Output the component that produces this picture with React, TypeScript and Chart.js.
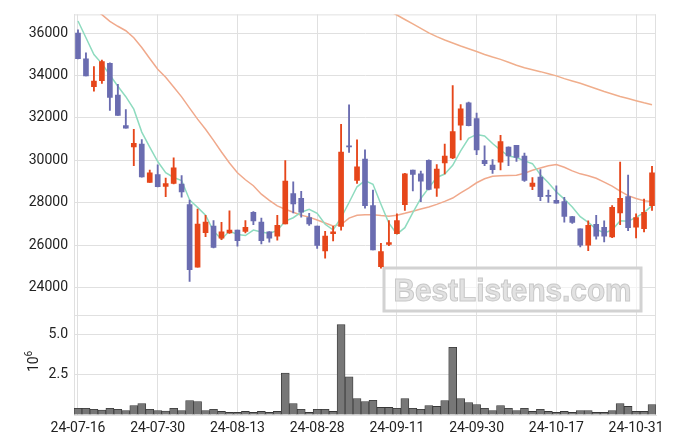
import React, { useEffect, useRef } from 'react';
import { Chart, registerables } from 'chart.js';

Chart.register(...registerables);

// ---------- data ----------
const dates = [
  '24-07-16', '24-07-17', '24-07-18', '24-07-19', '24-07-22', '24-07-23', '24-07-24', '24-07-25', '24-07-26', '24-07-29',
  '24-07-30', '24-07-31', '24-08-01', '24-08-02', '24-08-05', '24-08-06', '24-08-07', '24-08-08', '24-08-09', '24-08-12',
  '24-08-13', '24-08-14', '24-08-16', '24-08-19', '24-08-20', '24-08-21', '24-08-22', '24-08-23', '24-08-26', '24-08-27',
  '24-08-28', '24-08-29', '24-08-30', '24-09-02', '24-09-03', '24-09-04', '24-09-05', '24-09-06', '24-09-09', '24-09-10',
  '24-09-11', '24-09-12', '24-09-13', '24-09-19', '24-09-20', '24-09-23', '24-09-24', '24-09-25', '24-09-26', '24-09-27',
  '24-09-30', '24-10-02', '24-10-04', '24-10-07', '24-10-08', '24-10-10', '24-10-11', '24-10-14', '24-10-15', '24-10-16',
  '24-10-17', '24-10-18', '24-10-21', '24-10-22', '24-10-23', '24-10-24', '24-10-25', '24-10-28', '24-10-29', '24-10-30',
  '24-10-31', '24-11-01', '24-11-04',
];

const opens = [
  36000, 34790, 33470, 33750, 34570, 33080, 31640, 30630, 30760, 28960,
  29320, 28770, 28910, 28880, 27910, 24960, 26590, 26900, 26330, 26570,
  26710, 26650, 27550, 27090, 26620, 26420, 27000, 28430, 28200, 27300,
  26900, 25720, 26540, 26880, 30680, 29050, 30060, 27860, 24980, 26030,
  26540, 27910, 29540, 29360, 30000, 28680, 29880, 30110, 31660, 32710,
  31970, 30000, 29770, 29910, 30620, 30700, 30200, 28770, 29210, 28330,
  28110, 28050, 27350, 26770, 26000, 26980, 26840, 26390, 27520, 28290,
  26850, 26770, 27860,
];
const highs = [
  36150, 35070, 34420, 34730, 34600, 33580, 32390, 31460, 30980, 29540,
  29780, 29160, 30110, 29280, 28120, 27700, 27400, 27160, 27070, 27620,
  26710, 27160, 27580, 27270, 26640, 27400, 29980, 28980, 28530, 27500,
  26900, 26650, 26880, 31690, 32620, 30960, 30490, 28600, 26080, 27160,
  27470, 29380, 29540, 29490, 30020, 29800, 30760, 33520, 32630, 32740,
  32230, 30680, 30030, 31180, 30640, 30700, 30340, 29180, 29560, 28590,
  28790, 28250, 27360, 26770, 27140, 27400, 27140, 27860, 29910, 29300,
  27470, 28170, 29720,
];
const lows = [
  34780, 33980, 33260, 33630, 32350, 32120, 31520, 29750, 29200, 28960,
  28740, 28280, 28880, 28260, 24290, 24960, 26400, 25870, 26260, 26550,
  25950, 26570, 26960, 26050, 26140, 26230, 27000, 27520, 27320, 26930,
  25840, 25380, 26200, 26700, 30370, 28910, 27740, 25770, 24910, 25970,
  26530, 27630, 28560, 28050, 28600, 28290, 29360, 30080, 30960, 31620,
  30260, 29750, 29380, 29540, 29750, 29950, 29000, 28610, 28090, 28010,
  27980, 27080, 27020, 25910, 25740, 26280, 26150, 26350, 26960, 26680,
  26340, 26620, 27630,
];
const closes = [
  34790, 33980, 33730, 34650, 32960, 32120, 31520, 30800, 29220, 29410,
  28760, 28900, 29640, 28510, 24840, 26990, 27090, 25890, 26620, 26710,
  26210, 26840, 27140, 26210, 26330, 26930, 29020, 27940, 27550, 27000,
  25980, 26430, 26620, 30390, 30630, 29690, 27860, 25770, 25690, 26120,
  27160, 29360, 29330, 29020, 28630, 29580, 30200, 31350, 32430, 31630,
  30490, 29840, 29560, 30880, 30210, 30140, 29050, 28930, 28280, 28300,
  27980, 27350, 27070, 26000, 26930, 26420, 26420, 27780, 28200, 26820,
  27300, 27550, 29410,
];
const volumes = [
  410000, 410000, 350000, 300000, 410000, 350000, 280000, 590000, 710000, 350000,
  280000, 240000, 410000, 280000, 890000, 830000, 280000, 350000, 220000, 160000,
  160000, 220000, 160000, 220000, 160000, 220000, 2600000, 710000, 350000, 160000,
  350000, 350000, 220000, 5590000, 2360000, 1020000, 830000, 910000, 470000, 470000,
  410000, 1020000, 410000, 350000, 590000, 530000, 890000, 4190000, 1020000, 770000,
  650000, 410000, 280000, 590000, 410000, 280000, 410000, 220000, 350000, 220000,
  160000, 220000, 160000, 280000, 280000, 160000, 160000, 280000, 710000, 530000,
  220000, 220000, 650000,
];
const ma5 = [
  36570, 35780, 34990, 34560, 34020, 33490, 33000, 32410, 31330, 30620,
  29940, 29420, 29190, 29040, 28130, 27780, 27410, 26660, 26280, 26660,
  26500, 26450, 26710, 26620, 26550, 26690, 27130, 27290, 27550, 27690,
  27500, 26980, 26720, 27290, 28010, 28750, 29040, 28870, 27930, 27030,
  26520, 26820, 27530, 28200, 28700, 29190, 29350, 29760, 30440, 31040,
  31220, 31150, 30790, 30480, 30200, 30130, 29970, 29840, 29320, 28940,
  28510, 28170, 27800, 27340, 27070, 26750, 26570, 26710, 27150, 27130,
  27310, 27530, 27860,
];
const ma20 = [
  37650, 37380, 37120, 36870, 36550, 36320, 36110, 35780, 35320, 34800,
  34290, 33920, 33460, 32990, 32460, 31940, 31460, 30940, 30390, 29870,
  29410, 29080, 28800, 28400, 28110, 27850, 27690, 27550, 27410, 27320,
  27180, 27040, 26900, 26970, 27270, 27410, 27430, 27430, 27390, 27360,
  27410, 27500, 27600, 27700, 27800, 27920, 28060, 28220, 28460, 28690,
  28940, 29130, 29250, 29270, 29280, 29290, 29390, 29530, 29640, 29740,
  29800, 29670, 29500, 29360, 29270, 29150, 28970, 28780, 28550, 28330,
  28200, 28090, 28050,
];
const ma60 = [
  null, null, null, null, null, null, null, null, null, null,
  null, null, null, null, null, null, null, null, null, null,
  null, null, null, null, null, null, null, null, null, null,
  null, null, null, null, null, null, null, null, 37250, 37040,
  36850, 36640, 36430, 36220, 36010, 35830, 35670, 35530, 35390, 35260,
  35130, 34990, 34870, 34760, 34620, 34480, 34360, 34270, 34180, 34080,
  33980, 33850, 33740, 33630, 33500, 33370, 33240, 33130, 33010, 32910,
  32810, 32710, 32620,
];

const priceMin = 22710;
const priceMax = 36880;
const priceTickValues = [24000, 26000, 28000, 30000, 32000, 34000, 36000];
const volMax = 6200000;
const volTickValues = [0, 2500000, 5000000];
const labelEvery = 10;

// ---------- styles ----------
const UP = '#E6461A';
const DOWN = '#6A6CB0';
const GRID = '#E0E0E0';
const FONT = 'Roboto';

const framePlugin = {
  id: 'frame',
  beforeDatasetsDraw(chart: any) {
    const { ctx, chartArea } = chart;
    const yv = chart.scales.yv;
    ctx.save();
    ctx.strokeStyle = GRID;
    ctx.lineWidth = 1;
    ctx.beginPath();
    ctx.moveTo(chartArea.left, chartArea.top + 0.5);
    ctx.lineTo(chartArea.right, chartArea.top + 0.5);
    ctx.moveTo(chartArea.right - 0.5, chartArea.top);
    ctx.lineTo(chartArea.right - 0.5, chartArea.bottom);
    ctx.moveTo(chartArea.left, Math.round(yv.top) + 0.5);
    ctx.lineTo(chartArea.right, Math.round(yv.top) + 0.5);
    ctx.stroke();

    // watermark
    const bx = 384, by = 268, bw = 257, bh = 43;
    ctx.fillStyle = 'rgba(255,255,255,0.6)';
    ctx.fillRect(bx, by, bw, bh);
    ctx.strokeStyle = '#D2D2D2';
    ctx.lineWidth = 3;
    ctx.strokeRect(bx, by, bw, bh);
    ctx.font = `bold 30px "Liberation Sans", Arial, sans-serif`;
    const text = 'BestListens.com';
    const w = ctx.measureText(text).width;
    const sx = 238 / w;
    ctx.translate(bx + bw / 2, by + bh / 2 + 11);
    ctx.scale(sx, 1.05);
    ctx.textAlign = 'center';
    ctx.textBaseline = 'alphabetic';
    ctx.fillStyle = '#E2E2E2';
    ctx.fillText(text, 0, 0);
    ctx.strokeStyle = '#C9C9C9';
    ctx.lineWidth = 1;
    ctx.strokeText(text, 0, 0);
    ctx.restore();
  },
  afterDraw(chart: any) {
    const { ctx } = chart;
    ctx.save();
    ctx.translate(38.3, 372);
    ctx.rotate(-Math.PI / 2);
    ctx.fillStyle = '#222';
    ctx.textBaseline = 'alphabetic';
    ctx.textAlign = 'left';
    ctx.font = `14px ${FONT}`;
    ctx.fillText('10', 0, 0);
    ctx.font = `10px ${FONT}`;
    ctx.fillText('6', 15.5, -6.5);
    ctx.restore();
  },
};

export default function App() {
  const ref = useRef<HTMLCanvasElement | null>(null);

  useEffect(() => {
    document.body.style.margin = '0';
    document.body.style.overflow = 'hidden';
    const canvas = ref.current;
    if (!canvas) return;
    Chart.defaults.font.family = FONT;
    Chart.defaults.color = '#222';

    const colors = closes.map((c, i) => (c >= opens[i] ? UP : DOWN));

    const chart = new Chart(canvas, {
      type: 'bar',
      data: {
        labels: dates,
        datasets: [
          {
            type: 'line',
            label: 'MA5',
            data: ma5,
            borderColor: '#8EDBBF',
            borderWidth: 1.5,
            pointRadius: 0,
            yAxisID: 'y',
            order: 10,
          } as any,
          {
            type: 'line',
            label: 'MA20',
            data: ma20,
            borderColor: '#F0A98C',
            borderWidth: 1.5,
            pointRadius: 0,
            yAxisID: 'y',
            order: 10,
          } as any,
          {
            type: 'line',
            label: 'MA60',
            data: ma60,
            borderColor: '#F0AE8C',
            borderWidth: 1.5,
            pointRadius: 0,
            yAxisID: 'y',
            order: 10,
          } as any,
          {
            type: 'bar',
            label: 'wick',
            data: lows.map((l, i) => [l, highs[i]]),
            backgroundColor: colors,
            barThickness: 1.2,
            grouped: false,
            yAxisID: 'y',
            order: 2,
          } as any,
          {
            type: 'bar',
            label: 'body',
            data: opens.map((o, i) => [o, closes[i]]),
            backgroundColor: colors,
            barThickness: 5,
            minBarLength: 1,
            grouped: false,
            yAxisID: 'y',
            order: 1,
          } as any,
          {
            type: 'bar',
            label: 'volume',
            data: volumes,
            backgroundColor: '#777777',
            borderColor: '#383838',
            borderWidth: 0.8,
            barPercentage: 1,
            categoryPercentage: 1,
            grouped: false,
            yAxisID: 'yv',
            order: 3,
          } as any,
        ],
      },
      options: {
        animation: false,
        responsive: false,
        maintainAspectRatio: false,
        layout: { padding: { top: 9, right: 19, left: 0, bottom: 0 } },
        plugins: { legend: { display: false }, tooltip: { enabled: false } },
        scales: {
          x: {
            type: 'category',
            offset: true,
            grid: {
              offset: false,
              drawTicks: false,
              color: (ctx: any) => (ctx.index % labelEvery === 0 ? GRID : 'rgba(0,0,0,0)'),
            },
            border: { color: GRID },
            ticks: {
              autoSkip: false,
              maxRotation: 0,
              minRotation: 0,
              padding: 5,
              font: { size: 14 },
              color: '#222',
              callback: (_v: any, i: number) => (i % labelEvery === 0 ? dates[i] : ''),
            },
            afterFit: (s: any) => {
              s.height = 29;
            },
          },
          yv: {
            type: 'linear',
            position: 'left',
            stack: 'main',
            stackWeight: 1,
            min: 0,
            max: volMax,
            grid: { color: GRID, drawTicks: false },
            border: { color: GRID },
            ticks: {
              padding: 6,
              font: { size: 14 },
              color: '#222',
              callback: (v: any) => (v === 0 ? '' : (v / 1e6).toFixed(1)),
            },
            afterBuildTicks: (s: any) => {
              s.ticks = volTickValues.map((v) => ({ value: v }));
            },
            afterFit: (s: any) => {
              s.width = 74;
            },
          },
          y: {
            type: 'linear',
            position: 'left',
            stack: 'main',
            stackWeight: 3,
            min: priceMin,
            max: priceMax,
            grid: { color: GRID, drawTicks: false },
            border: { color: GRID },
            ticks: {
              padding: 6,
              font: { size: 14 },
              color: '#222',
              callback: (v: any) => String(v),
            },
            afterBuildTicks: (s: any) => {
              s.ticks = priceTickValues.map((v) => ({ value: v }));
            },
            afterFit: (s: any) => {
              s.width = 74;
            },
          },
        } as any,
      },
      plugins: [framePlugin],
    });

    return () => chart.destroy();
  }, []);

  return (
    <div style={{ width: 675, height: 444 }}>
      <canvas ref={ref} width={675} height={444} style={{ display: 'block' }} />
    </div>
  );
}
